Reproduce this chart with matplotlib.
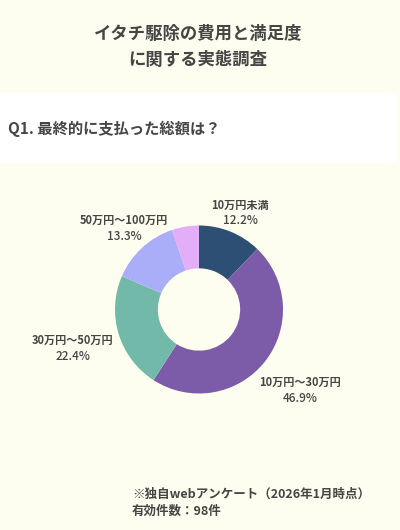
import matplotlib
matplotlib.use("Agg")
import matplotlib.pyplot as plt
from matplotlib.patches import Rectangle

plt.rcParams['font.family'] = ['Noto Sans CJK JP', 'DejaVu Sans']

TITLE = ["イタチ駆除の費用と満足度", "に関する実態調査"]
QUESTION = "Q1. 最終的に支払った総額は？"
CATEGORIES = ["10万円未満", "10万円～30万円", "30万円～50万円", "50万円～100万円", "100万円以上"]
SHARES = [12.2, 46.9, 22.4, 13.3, 5.2]
SHOW_LABEL = [True, True, True, True, False]
COLORS = ["#2E4F74", "#7C5BA9", "#73B9A9", "#AAAEF9", "#E4ADF8"]
NOTES = ["※独自webアンケート（2026年1月時点）", "有効件数：98件"]

BG = "#FEFEF0"
TXT = "#454545"
W, H = 400, 530


def px(x, y):
    return x / W, 1 - y / H


fig = plt.figure(figsize=(W / 100, H / 100), dpi=100, facecolor=BG)

# white band behind the question
fig.patches.append(Rectangle(px(0, 163), 397 / W, 70 / H, transform=fig.transFigure,
                             facecolor="white", edgecolor="none", zorder=0))

fig.text(*px(198, 34), TITLE[0], ha="center", va="center", fontsize=12.5,
         fontweight="bold", color=TXT)
fig.text(*px(198, 60), TITLE[1], ha="center", va="center", fontsize=12.5,
         fontweight="bold", color=TXT)
fig.text(*px(8, 129), QUESTION, ha="left", va="center", fontsize=11,
         fontweight="bold", color=TXT)

# donut
cx, cy, r = 199, 309.5, 84
ax = fig.add_axes([(cx - r) / W, 1 - (cy + r) / H, 2 * r / W, 2 * r / H])
ax.pie(SHARES, colors=COLORS, startangle=90, counterclock=False, radius=1,
       wedgeprops=dict(width=0.51, linewidth=0))
ax.set_xlim(-1, 1)
ax.set_ylim(-1, 1)
ax.set_aspect("equal")
ax.axis("off")

# label anchor points (pixel centres of the two-line labels)
label_pos = [(240, 205), (300, 382), (73, 340), (124, 220), (0, 0)]
for cat, val, show, (lx, ly) in zip(CATEGORIES, SHARES, SHOW_LABEL, label_pos):
    if not show:
        continue
    fig.text(*px(lx, ly), cat, ha="center", va="center", fontsize=8,
             fontweight="bold", color=TXT)
    fig.text(*px(lx, ly + 16), f"{val:.1f}%", ha="center", va="center",
             fontsize=8.5, fontweight="medium", color=TXT)

fig.text(*px(132, 494), NOTES[0], ha="left", va="center", fontsize=9,
         fontweight="bold", color=TXT)
fig.text(*px(132, 511), NOTES[1], ha="left", va="center", fontsize=9,
         fontweight="bold", color=TXT)

fig.savefig("out.png", dpi=100, facecolor=BG)
